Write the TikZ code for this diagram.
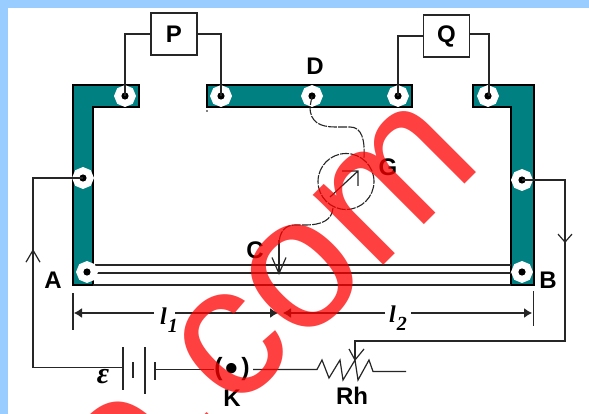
\documentclass[tikz,border=0pt]{standalone}
\usepackage{fontspec}
\setmainfont{Liberation Sans}
\newfontfamily\serifit{Liberation Serif}
\usetikzlibrary{arrows.meta,shapes.geometric}
\definecolor{pageblue}{HTML}{99CCFF}
\definecolor{bartteal}{HTML}{008080}
\tikzset{
  bar/.style={fill=bartteal,draw=black,line width=1.3pt},
  wire/.style={draw=black!85,line width=1.2pt},
  term/.style={regular polygon,regular polygon sides=8,shape border rotate=22.5,fill=white,inner sep=0pt,minimum size=22pt,
    path picture={\fill[black] (path picture bounding box.center) circle (3.6pt);}},
  resbox/.style={draw=black!85,fill=white,line width=1.3pt,minimum width=46pt,minimum height=42pt,inner sep=0pt,font=\fontsize{24}{24}\selectfont\bfseries},
  lbl/.style={inner sep=0pt,font=\fontsize{24}{24}\selectfont\bfseries},
  lenlbl/.style={inner sep=0pt,font=\fontsize{24}{24}\selectfont\serifit\bfseries\itshape},
  dashwire/.style={draw=black!85,line width=1.1pt,dash pattern=on 9pt off 1.2pt},
  barb/.style={-{Straight Barb[length=#1,width=14pt]}}
}
\begin{document}
\begin{tikzpicture}[x=1pt,y=-1pt]
\useasboundingbox (0,0) rectangle (589,414);
\clip (0,0) rectangle (589,414);
\fill[white] (0,0) rectangle (589,414);
\fill[pageblue] (0,0) rectangle (589,8);
\fill[pageblue] (0,0) rectangle (8,414);
% bars
\draw[bar] (73,85) -- (139,85) -- (139,107) -- (93,107) -- (93,285) -- (73,285) -- cycle;
\draw[bar] (207,85) rectangle (412,107);
\draw[bar] (473,85) -- (534,85) -- (534,285) -- (511,285) -- (511,107) -- (473,107) -- cycle;
% slide wires
\draw[wire] (93,265) -- (511,265);
\draw[wire] (93,273) -- (511,273);
\draw[wire] (93,285) -- (511,285);
% terminals
\node[term] (t1) at (125,96) {};
\node[term] (t2) at (221,96) {};
\node[term] (t3) at (312,96) {};
\node[term] (t4) at (398,96) {};
\node[term] (t5) at (488,96) {};
\node[term] (t6) at (83,178) {};
\node[term] (t7) at (522,180) {};
\node[term] (t8) at (87,272) {};
\node[term] (t9) at (522,272) {};
\fill[black] (207,111) circle (0.8pt);
% boxes
\node[resbox] (P) at (174,34) {P};
\node[resbox] (Q) at (446.5,36) {Q};
\draw[wire] (t1.center) |- (P.west);
\draw[wire] (P.east) -- (221,34) -- (t2.center);
\draw[wire] (Q.west) -| (t4.center);
\draw[wire] (Q.east|-0,34) -- (489,34) -- (489,96);
% galvanometer
\node[dashwire,circle,minimum width=56pt,inner sep=0pt] (G) at (346,181.5) {};
\draw[dashwire] (t3.center) -- (310,107) .. controls (310,122) and (320,127) .. (335,127) -- (350,127)
   .. controls (362,127) and (365,140) .. (364,158);
\draw[dashwire] (333,208) .. controls (332,220) and (322,225) .. (305,225) -- (295,225)
   .. controls (285,225) and (279,232) .. (279,245);
\coordinate (ctip) at (279,275);
\draw[wire,barb=16pt] (279,240) -- (ctip);
\draw[wire] (330,197) -- (358,171) (342,171) -- (358,171) -- (358,186);
% battery circuit
\draw[wire] (t6.center) -- (33,178) -- (33,367.5) -- (123,367.5);
\draw[wire,barb=12pt] (33,300) -- (33,249);
\draw[wire] (123,347) -- (123,390);
\draw[wire] (133,362) -- (133,378);
\draw[wire] (145,347) -- (145,394);
\draw[wire] (155,362) -- (155,380);
\draw[wire] (155,369.5) -- (214,369.5);
\draw[wire] (253,369.5) -- (317,369.5) -- (322,360) -- (329,378) -- (340,360) -- (343,380) -- (355,360) -- (358,380) -- (369,360) -- (373,371.5) -- (406,371.5);
\draw[wire] (t7.center) -- (565,180) -- (565,341) -- (355,341) -- (355,360);
\draw[wire,barb=8pt] (565,200) -- (565,243);
\draw[wire] (349,349) -- (355,360) -- (364,349);
% dimension
\draw[wire] (73,293) -- (73,330);
\draw[wire] (533.5,291) -- (533.5,326);
\draw[wire,-{Latex[length=8pt,width=10pt]}] (154,313) -- (74,313);
\draw[wire,-{Latex[length=8pt,width=10pt]}] (175,313) -- (278,313);
\draw[wire,-{Latex[length=8pt,width=10pt]}] (385,313) -- (283,313);
\draw[wire,-{Latex[length=8pt,width=10pt]}] (411,313) -- (532,313);
% labels
\node[lbl] (lD) at (315,66) {D};
\node[lbl] (lA) at (53,280) {A};
\node[lbl] (lB) at (548,280) {B};
\node[lbl] (lC) at (255,250) {C};
\node[lbl] (lG) at (388,167) {G};
\node[lbl] (lK) at (232,398) {K};
\node[lbl] (lRh) at (352,396) {Rh};
\node[lenlbl,font=\fontsize{30}{30}\selectfont\serifit\bfseries\itshape] (e) at (103,377) {ε};
\node[lenlbl] (l1) at (169,320) {l\kern1pt\raisebox{-8pt}{\fontsize{20}{20}\selectfont 1}};
\node[lenlbl] (l2) at (398,318) {l\kern1pt\raisebox{-8pt}{\fontsize{20}{20}\selectfont 2}};
\node[inner sep=0pt,font=\fontsize{25}{25}\selectfont\bfseries] (K) at (232,369) {(\kern3pt\raisebox{-5.5pt}{\fontsize{36}{36}\selectfont •}\kern3pt)};
% watermark
\node[anchor=base west,rotate=45,inner sep=0pt,text=red,text opacity=.75,font=\fontsize{188}{188}\selectfont] (wm) at (122.8,526) {o.com};
\end{tikzpicture}
\end{document}
